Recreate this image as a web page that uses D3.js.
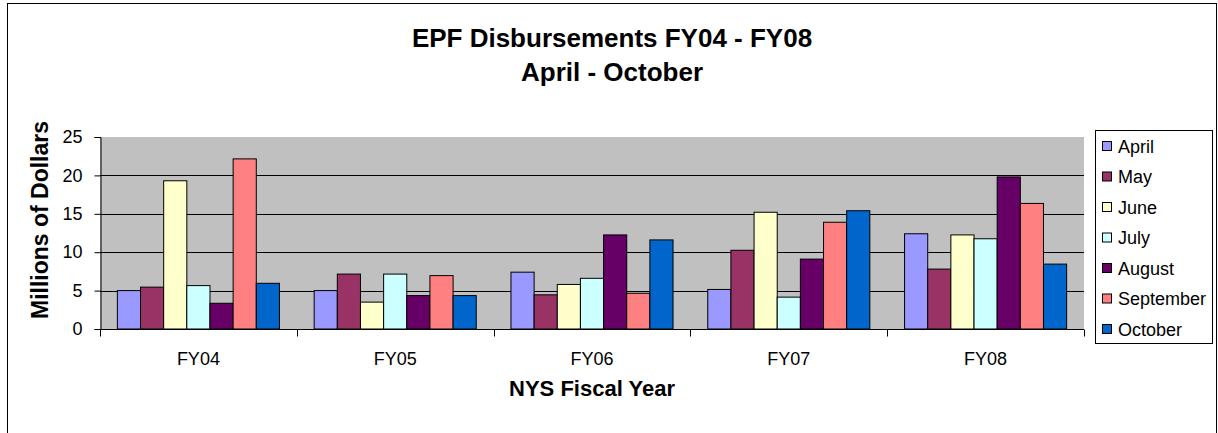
<!DOCTYPE html>
<html>
<head>
<meta charset="utf-8">
<script src="https://cdn.jsdelivr.net/npm/d3@7"></script>
<style>
  html, body { margin: 0; padding: 0; background: #fff; }
  svg text { font-family: "Liberation Sans", Arial, sans-serif; fill: #000; }
</style>
</head>
<body>
<div id="chart"></div>
<script>
const fiscalYears = ["FY04", "FY05", "FY06", "FY07", "FY08"];
const months = ["April", "May", "June", "July", "August", "September", "October"];
const monthColors = ["#9999FF", "#993366", "#FFFFCC", "#CCFFFF", "#660066", "#FF8080", "#0066CC"];

// millions of dollars, one array per month, in fiscal year order
const april     = [5.0, 5.0, 7.4, 5.15, 12.4];
const may       = [5.45, 7.15, 4.45, 10.25, 7.8];
const june      = [19.3, 3.5, 5.8, 15.2, 12.25];
const july      = [5.65, 7.15, 6.6, 4.15, 11.75];
const august    = [3.35, 4.35, 12.25, 9.1, 19.8];
const september = [22.15, 6.95, 4.65, 13.9, 16.35];
const october   = [5.95, 4.35, 11.6, 15.4, 8.45];

const yTicks = [0, 5, 10, 15, 20, 25];

const seriesValues = [april, may, june, july, august, september, october];

const width = 1218;
const height = 433;
const plot = { left: 100, right: 1084, top: 137, bottom: 329 };

const svg = d3.select("#chart")
  .append("svg")
  .attr("width", width)
  .attr("height", height);

// outer chart frame (bottom edge falls outside the picture)
svg.append("rect")
  .attr("x", 7.5)
  .attr("y", 3.5)
  .attr("width", 1209)
  .attr("height", 460)
  .attr("fill", "#fff")
  .attr("stroke", "#000")
  .attr("stroke-width", 1);

const x0 = d3.scaleBand()
  .domain(fiscalYears)
  .range([plot.left, plot.right])
  .padding(0);

const x1 = d3.scaleBand()
  .domain(months)
  .range([0, x0.bandwidth()])
  .paddingInner(0)
  .paddingOuter(0.75);

const y = d3.scaleLinear()
  .domain([0, 25])
  .range([plot.bottom, plot.top]);

const color = d3.scaleOrdinal().domain(months).range(monthColors);

// plot background
svg.append("rect")
  .attr("x", plot.left)
  .attr("y", plot.top)
  .attr("width", plot.right - plot.left)
  .attr("height", plot.bottom - plot.top)
  .attr("fill", "#C0C0C0");

// gridlines
svg.append("g")
  .selectAll("line")
  .data(yTicks.filter(d => d > 0 && d < 25))
  .join("line")
  .attr("x1", plot.left)
  .attr("x2", plot.right)
  .attr("y1", d => Math.round(y(d)) + 0.5)
  .attr("y2", d => Math.round(y(d)) + 0.5)
  .attr("stroke", "#000")
  .attr("stroke-width", 1);

// bars
const rows = fiscalYears.map((fy, i) => ({
  fy,
  values: months.map((m, j) => ({ month: m, value: seriesValues[j][i] }))
}));

svg.append("g")
  .selectAll("g")
  .data(rows)
  .join("g")
  .attr("transform", d => `translate(${x0(d.fy)},0)`)
  .selectAll("rect")
  .data(d => d.values)
  .join("rect")
  .attr("x", d => x1(d.month))
  .attr("y", d => y(d.value))
  .attr("width", x1.bandwidth())
  .attr("height", d => y(0) - y(d.value))
  .attr("fill", d => color(d.month))
  .attr("stroke", "#000")
  .attr("stroke-width", 1);

// y axis
const yAxis = svg.append("g")
  .attr("transform", `translate(${plot.left + 0.5},0)`)
  .call(d3.axisLeft(y).tickValues(yTicks).tickSize(6).tickPadding(12).tickFormat(d3.format("d")));
yAxis.select(".domain").attr("stroke", "#000");
yAxis.selectAll(".tick line").attr("stroke", "#000");
yAxis.selectAll(".tick text")
  .attr("font-size", "18px")
  .attr("font-family", "'Liberation Sans', Arial, sans-serif")
  .attr("fill", "#000");

// x axis: ticks at category boundaries, labels centered in bands
const xAxis = svg.append("g")
  .attr("transform", `translate(0,${plot.bottom + 0.5})`);
xAxis.append("line")
  .attr("x1", plot.left)
  .attr("x2", plot.right)
  .attr("stroke", "#000");
const boundaries = fiscalYears.map(fy => x0(fy)).concat([plot.right]);
xAxis.selectAll("line.tick")
  .data(boundaries)
  .join("line")
  .attr("class", "tick")
  .attr("x1", d => Math.round(d) + 0.5)
  .attr("x2", d => Math.round(d) + 0.5)
  .attr("y1", 0)
  .attr("y2", 7)
  .attr("stroke", "#000");
xAxis.selectAll("text")
  .data(fiscalYears)
  .join("text")
  .attr("x", d => x0(d) + x0.bandwidth() / 2)
  .attr("y", 35)
  .attr("text-anchor", "middle")
  .attr("font-size", "18px")
  .text(d => d);

// titles
svg.append("text")
  .attr("x", 612)
  .attr("y", 47)
  .attr("text-anchor", "middle")
  .attr("font-size", "26px")
  .attr("font-weight", "bold")
  .text("EPF Disbursements FY04 - FY08");

svg.append("text")
  .attr("x", 612)
  .attr("y", 81)
  .attr("text-anchor", "middle")
  .attr("font-size", "26px")
  .attr("font-weight", "bold")
  .text("April - October");

svg.append("text")
  .attr("x", (plot.left + plot.right) / 2)
  .attr("y", 396)
  .attr("text-anchor", "middle")
  .attr("font-size", "22px")
  .attr("font-weight", "bold")
  .text("NYS Fiscal Year");

svg.append("text")
  .attr("transform", "translate(48,220) rotate(-90)")
  .attr("text-anchor", "middle")
  .attr("font-size", "23px")
  .attr("font-weight", "bold")
  .text("Millions of Dollars");

// legend
const legend = svg.append("g");
legend.append("rect")
  .attr("x", 1095.5)
  .attr("y", 130.5)
  .attr("width", 117)
  .attr("height", 213)
  .attr("fill", "#fff")
  .attr("stroke", "#000");

const legendY = d3.scalePoint()
  .domain(months)
  .range([146, 329]);

const items = legend.selectAll("g.item")
  .data(months)
  .join("g")
  .attr("class", "item")
  .attr("transform", d => `translate(0,${legendY(d)})`);

items.append("rect")
  .attr("x", 1102.5)
  .attr("y", -4.5)
  .attr("width", 9)
  .attr("height", 9)
  .attr("fill", d => color(d))
  .attr("stroke", "#000");

items.append("text")
  .attr("x", 1118)
  .attr("y", 6.5)
  .attr("font-size", "18px")
  .text(d => d);
</script>
</body>
</html>
